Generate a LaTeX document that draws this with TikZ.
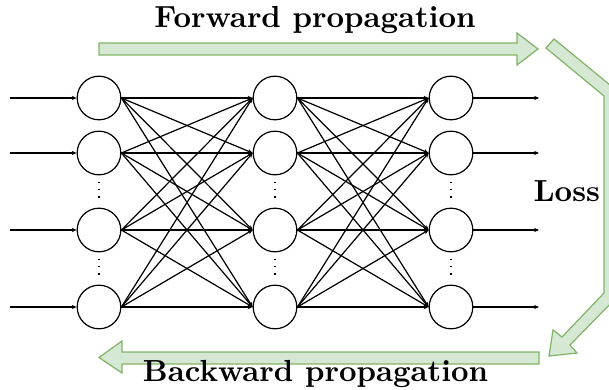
\documentclass[tikz,border=0pt]{standalone}
\usetikzlibrary{arrows.meta}
\definecolor{gfill}{HTML}{D5E8D4}
\definecolor{gdraw}{HTML}{82B366}
\begin{document}
\begin{tikzpicture}[x=0.3279pt,y=-0.3279pt,
  neuron/.style={circle,draw,line width=0.4pt,minimum size=14.3pt,inner sep=0pt},
  conn/.style={-{Stealth[length=1.6pt,width=1.4pt]},line width=0.4pt},
  dotline/.style={dotted,line width=0.45pt,shorten >=2pt,shorten <=2pt},
  band/.style={fill=gfill,draw=gdraw,line width=0.4pt,line join=miter},
  lbl/.style={font=\bfseries,inner sep=0pt}]
\useasboundingbox (0,0) rectangle (609,390);
\clip (0,0) rectangle (609,390);
% forward arrow
\path[band] (99,43) -- (517,43) -- (517,33) -- (538,49) -- (517,65) -- (517,55) -- (99,55) -- cycle;
% backward arrow
\path[band] (539,352) -- (122,352) -- (122,341) -- (99,357.5) -- (122,373) -- (122,364) -- (539,364) -- cycle;
% bent loss arrow
\path[band] (554,39) -- (616,90) -- (616,298) -- (570,345) -- (577,353) -- (549,356) -- (553,330) -- (562,337) -- (604,293) -- (604,96) -- (546,48) -- cycle;
% labels
\node[lbl,anchor=base] (fwd) at (315,28) {Forward propagation};
\node[lbl,anchor=base] (bwd) at (315.5,381) {Backward propagation};
\node[lbl,anchor=base west] (loss) at (533,202) {Loss};
% neurons
\foreach \i/\x in {1/99,2/275,3/451}
  \foreach \j/\y in {1/98,2/153,3/230,4/307}
    \node[neuron] (n\i\j) at (\x,\y) {};
% inputs and outputs
\foreach \j/\y in {1/98,2/153,3/230,4/307}{
  \coordinate (in\j) at (10,\y);
  \coordinate (out\j) at (539,\y);
  \draw[conn] (in\j) -- (n1\j.west);
  \draw[conn] (n3\j.east) -- (out\j);
}
% full connections
\foreach \a/\b in {1/2,2/3}
  \foreach \j in {1,...,4}
    \foreach \k in {1,...,4}
      \draw[conn] (n\a\j.east) -- (n\b\k.west);
% dots
\foreach \i in {1,2,3}{
  \draw[dotline] (n\i2.south) -- (n\i3.north);
  \draw[dotline] (n\i3.south) -- (n\i4.north);
}
\end{tikzpicture}
\end{document}
